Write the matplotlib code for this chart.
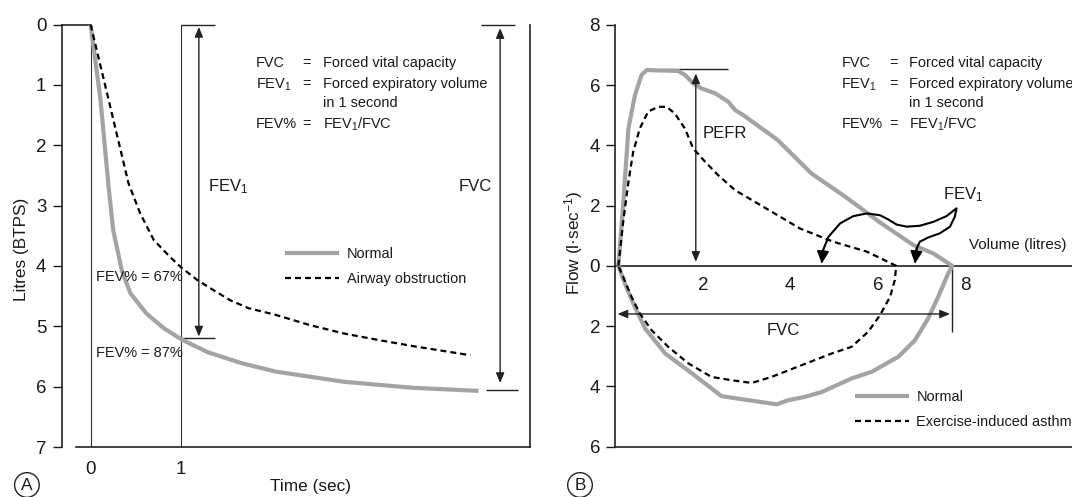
import matplotlib
matplotlib.use('Agg')
import matplotlib.pyplot as plt
from matplotlib import font_manager
from matplotlib.font_manager import FontProperties

# ---------------- data ----------------
# Panel A: volume-time spirogram
t_normal = [0.0, 0.11, 0.20, 0.25, 0.345, 0.44, 0.62, 0.81, 1.01, 1.30, 1.67, 2.05, 2.81, 3.58, 4.30]
vol_normal = [0.0, 1.25, 2.70, 3.40, 4.07, 4.45, 4.79, 5.03, 5.22, 5.43, 5.61, 5.75, 5.92, 6.02, 6.07]
t_obstr = [0.0, 0.20, 0.42, 0.55, 0.70, 0.88, 1.00, 1.18, 1.36, 1.55, 1.75, 2.05, 2.43, 2.81, 3.20, 3.58, 4.21]
vol_obstr = [0.0, 1.25, 2.63, 3.13, 3.57, 3.85, 4.02, 4.23, 4.40, 4.57, 4.70, 4.81, 4.98, 5.12, 5.23, 5.33, 5.48]
litre_ticks = [0, 1, 2, 3, 4, 5, 6, 7]
time_ticks = [0, 1]
fev1_normal_A = 5.2      # litres at 1 s (normal)
fvc_normal_A = 6.05      # litres (normal FVC)

# Panel B: flow-volume loops
normal_exp_v = [0.07, 0.18, 0.30, 0.45, 0.60, 0.72, 1.44, 1.59, 1.78, 1.97, 2.28, 2.58, 2.74, 2.93,
                3.71, 4.48, 5.26, 6.03, 6.81, 7.27, 7.70]
normal_exp_f = [0.0, 2.02, 4.56, 5.67, 6.34, 6.50, 6.47, 6.34, 6.06, 5.89, 5.73, 5.45, 5.17, 5.00,
                4.18, 3.07, 2.29, 1.46, 0.69, 0.41, 0.0]
normal_insp_v = [7.70, 7.61, 7.38, 7.15, 6.85, 6.47, 5.86, 5.40, 4.72, 4.34, 3.96, 3.69, 3.04, 2.43,
                 1.75, 1.14, 0.68, 0.41, 0.22, 0.07]
normal_insp_f = [0.0, -0.25, -1.03, -1.75, -2.47, -3.02, -3.52, -3.74, -4.19, -4.35, -4.46, -4.60,
                 -4.46, -4.33, -3.57, -2.91, -2.08, -1.25, -0.59, 0.0]
asthma_exp_v = [0.07, 0.18, 0.30, 0.41, 0.56, 0.75, 0.98, 1.17, 1.36, 1.59, 1.78, 2.05, 2.35, 2.74,
                3.71, 4.22, 4.98, 5.75, 6.42]
asthma_exp_f = [0.0, 1.46, 2.79, 3.79, 4.56, 5.12, 5.28, 5.28, 5.06, 4.56, 3.90, 3.46, 3.01, 2.51,
                1.68, 1.24, 0.80, 0.47, 0.0]
asthma_insp_v = [6.42, 6.39, 6.28, 6.05, 5.78, 5.40, 4.95, 4.26, 3.57, 3.12, 2.66, 2.20, 1.67, 1.21,
                 0.83, 0.56, 0.37, 0.18, 0.07]
asthma_insp_f = [0.0, -0.47, -1.03, -1.64, -2.19, -2.69, -2.91, -3.30, -3.69, -3.89, -3.80, -3.69,
                 -3.24, -2.69, -2.14, -1.58, -1.03, -0.37, 0.0]
flow_ticks = [8, 6, 4, 2, 0, -2, -4, -6]
flow_tick_labels = ['8', '6', '4', '2', '0', '2', '4', '6']
volume_ticks = [2, 4, 6, 8]
pefr_normal = 6.5
fvc_normal_B = 7.7
# FEV1 bracket (volume, flow) linking the two FEV1 volumes to the label
fev1_path_v = [4.72, 4.75, 4.87, 5.14, 5.44, 5.75, 6.05, 6.24, 6.43, 6.66, 6.96, 7.27, 7.57, 7.80,
               7.76, 7.65, 7.42, 7.15, 6.96, 6.89, 6.85]
fev1_path_f = [0.13, 0.52, 0.96, 1.41, 1.65, 1.74, 1.68, 1.54, 1.37, 1.30, 1.33, 1.46, 1.65, 1.91,
               1.63, 1.30, 1.08, 0.94, 0.80, 0.58, 0.13]

# ---------------- fonts ----------------
def have(fam):
    try:
        font_manager.findfont(FontProperties(family=fam), fallback_to_default=False)
        return True
    except Exception:
        return False

if have('Liberation Sans Narrow'):
    MAIN = 'Liberation Sans Narrow'
    k, k2 = 1.0, 1.0
else:
    MAIN = 'Liberation Sans'
    k, k2 = 0.87, 0.92
plt.rcParams['font.family'] = [MAIN, 'DejaVu Sans']
plt.rcParams['mathtext.fontset'] = 'custom'
plt.rcParams['mathtext.rm'] = MAIN
plt.rcParams['mathtext.it'] = MAIN
plt.rcParams['mathtext.bf'] = MAIN
plt.rcParams['mathtext.sf'] = MAIN

S_TICK = 13.5
S_LAB = 13.5 * k2
S_TXT = 12 * k
S_ANN = 13 * k2
TXT = '#1a1a1a'
GREY = '#a3a3a3'

W, H = 1072, 497
fig = plt.figure(figsize=(W / 100, H / 100), dpi=100)
fig.patch.set_facecolor('white')


def px_axes(x0, y_top, x1, y_bot):
    return [x0 / W, 1 - y_bot / H, (x1 - x0) / W, (y_bot - y_top) / H]


arrow_kw = dict(arrowstyle='<|-|>,head_length=0.6,head_width=0.25', color='#222222', lw=1.0,
                shrinkA=0, shrinkB=0, mutation_scale=10)

# ================= Panel A =================
axA = fig.add_axes(px_axes(62, 24.5, 530, 447))
axA.set_xlim(-0.317, 4.871)
axA.set_ylim(7, 0)
axA.patch.set_alpha(0)

lnA_norm, = axA.plot(t_normal, vol_normal, color=GREY, lw=3, solid_capstyle='butt',
                     solid_joinstyle='round', label='Normal', zorder=3)
lnA_obs, = axA.plot(t_obstr, vol_obstr, color='black', lw=1.6, dashes=(2.7, 1.8),
                    label='Airway obstruction', zorder=4)

for tt in time_ticks:
    axA.axvline(tt, color='#333333', lw=0.8, zorder=1)

for s in ['left', 'right', 'top', 'bottom']:
    axA.spines[s].set_linewidth(1.2)
    axA.spines[s].set_color('#222222')
axA.spines['top'].set_bounds(-0.317, 0)
axA.spines['bottom'].set_bounds(-0.165, 4.871)

axA.set_yticks(litre_ticks)
axA.set_yticklabels([str(v) for v in litre_ticks])
axA.set_xticks(time_ticks)
axA.set_xticklabels([str(v) for v in time_ticks])
axA.tick_params(axis='y', direction='out', length=6.2, width=1, pad=5, labelsize=S_TICK,
                colors=TXT)
axA.tick_params(axis='x', length=0, pad=10, labelsize=S_TICK, colors=TXT)

# FEV1 arrow and bars
axA.annotate('', xy=(1.2, 0.04), xytext=(1.2, fev1_normal_A - 0.03), arrowprops=arrow_kw)
axA.hlines([0, fev1_normal_A], 1.0, 1.38, color='#222222', lw=1.0, clip_on=False)
axA.text(1.3, 2.69, r'FEV$_1$', fontsize=S_ANN, color=TXT, ha='left', va='center')
# FVC arrow and bars
axA.annotate('', xy=(4.54, 0.06), xytext=(4.54, fvc_normal_A - 0.11), arrowprops=arrow_kw)
axA.hlines([0], 4.33, 4.71, color='#222222', lw=1.0, clip_on=False)
axA.hlines([fvc_normal_A], 4.38, 4.74, color='#222222', lw=1.0, clip_on=False)
axA.text(4.45, 2.69, 'FVC', fontsize=S_ANN, color=TXT, ha='right', va='center')

# definitions block
defs_y = [0.70, 1.06, 1.37, 1.72]
axA.text(1.83, defs_y[0], 'FVC', fontsize=S_TXT, color=TXT, va='baseline')
axA.text(2.39, defs_y[0], '=', fontsize=S_TXT, color=TXT, va='baseline', ha='center')
axA.text(2.58, defs_y[0], 'Forced vital capacity', fontsize=S_TXT, color=TXT, va='baseline')
axA.text(1.83, defs_y[1], r'FEV$_1$', fontsize=S_TXT, color=TXT, va='baseline')
axA.text(2.39, defs_y[1], '=', fontsize=S_TXT, color=TXT, va='baseline', ha='center')
axA.text(2.58, defs_y[1], 'Forced expiratory volume', fontsize=S_TXT, color=TXT, va='baseline')
axA.text(2.58, defs_y[2], 'in 1 second', fontsize=S_TXT, color=TXT, va='baseline')
axA.text(1.83, defs_y[3], 'FEV%', fontsize=S_TXT, color=TXT, va='baseline')
axA.text(2.39, defs_y[3], '=', fontsize=S_TXT, color=TXT, va='baseline', ha='center')
axA.text(2.58, defs_y[3], r'FEV$_1$/FVC', fontsize=S_TXT, color=TXT, va='baseline')

axA.text(0.06, 4.18, 'FEV% = 67%', fontsize=S_TXT, color=TXT, va='center', ha='left', zorder=5)
axA.text(0.06, 5.44, 'FEV% = 87%', fontsize=S_TXT, color=TXT, va='center', ha='left', zorder=5)

axA.legend(handles=[lnA_norm, lnA_obs], loc='center left', bbox_to_anchor=(2.16, 4.01),
           bbox_transform=axA.transData, frameon=False, borderpad=0, borderaxespad=0,
           handlelength=3.24 / k, handletextpad=0.45 / k, labelspacing=0.75, fontsize=S_TXT,
           labelcolor=TXT)

fig.text(21.7 / W, 1 - 249 / H, 'Litres (BTPS)', rotation=90, ha='center', va='center',
         fontsize=S_LAB, color=TXT)
fig.text(310 / W, 1 - 486.7 / H, 'Time (sec)', ha='center', va='center', fontsize=S_LAB,
         color=TXT)
fig.text(26.9 / W, 1 - 485 / H, 'A', ha='center', va='center', fontsize=S_LAB, color=TXT,
         bbox=dict(boxstyle='circle,pad=0.28', fc='none', ec='#222222', lw=1))

# ================= Panel B =================
axB = fig.add_axes(px_axes(615.3, 24.9, 1072, 446.5))
axB.set_xlim(0, (1072 - 615.3) / 43.75)
axB.set_ylim(-6, 8)
axB.patch.set_alpha(0)

lnB_norm, = axB.plot(normal_exp_v + normal_insp_v, normal_exp_f + normal_insp_f, color=GREY,
                     lw=3, solid_joinstyle='round', solid_capstyle='butt', label='Normal', zorder=3)
lnB_ast, = axB.plot(asthma_exp_v + asthma_insp_v, asthma_exp_f + asthma_insp_f, color='black',
                    lw=1.6, dashes=(2.7, 1.8), label='Exercise-induced asthma', zorder=4)

axB.axhline(0, color='#222222', lw=1.2, zorder=2)
for s in ['top', 'right']:
    axB.spines[s].set_visible(False)
for s in ['left', 'bottom']:
    axB.spines[s].set_linewidth(1.2)
    axB.spines[s].set_color('#222222')
axB.set_yticks(flow_ticks)
axB.set_yticklabels(flow_tick_labels)
axB.set_xticks([])
axB.tick_params(axis='y', direction='out', length=6.5, width=1, pad=4.5, labelsize=S_TICK,
                colors=TXT)
for v in volume_ticks:
    axB.text(v, -0.64, str(v), ha='center', va='center', fontsize=S_TICK, color=TXT)
axB.text(8.08, 0.69, 'Volume (litres)', ha='left', va='center', fontsize=S_TXT * 1.05, color=TXT)

# PEFR
axB.annotate('', xy=(1.84, pefr_normal - 0.11), xytext=(1.84, 0.13), arrowprops=arrow_kw)
axB.hlines([pefr_normal + 0.02], 1.07, 2.57, color='#222222', lw=1.0)
axB.text(2.0, 4.4, 'PEFR', ha='left', va='center', fontsize=S_ANN, color=TXT)

# FVC
axB.annotate('', xy=(0.05, -1.6), xytext=(fvc_normal_B - 0.05, -1.6), arrowprops=arrow_kw)
axB.vlines([fvc_normal_B], -2.19, 0, color='#222222', lw=1.0)
axB.text(3.84, -2.14, 'FVC', ha='center', va='center', fontsize=S_ANN, color=TXT)

# FEV1 bracket
axB.plot(fev1_path_v, fev1_path_f, color='black', lw=1.5, solid_capstyle='round', zorder=5)
head_kw = dict(arrowstyle='-|>,head_length=0.7,head_width=0.35', color='black', lw=1.5,
               shrinkA=0, shrinkB=0, mutation_scale=10)
axB.annotate('', xy=(fev1_path_v[0], fev1_path_f[0] - 0.05),
             xytext=(fev1_path_v[1], fev1_path_f[1]), arrowprops=head_kw, zorder=5)
axB.annotate('', xy=(fev1_path_v[-1], fev1_path_f[-1] - 0.05),
             xytext=(fev1_path_v[-2], fev1_path_f[-2]), arrowprops=head_kw, zorder=5)
axB.text(7.49, 2.35, r'FEV$_1$', ha='left', va='center', fontsize=S_ANN, color=TXT)

defsB_y = [6.61, 5.89, 5.26, 4.56]
axB.text(5.17, defsB_y[0], 'FVC', fontsize=S_TXT, color=TXT, va='baseline')
axB.text(6.35, defsB_y[0], '=', fontsize=S_TXT, color=TXT, va='baseline', ha='center')
axB.text(6.72, defsB_y[0], 'Forced vital capacity', fontsize=S_TXT, color=TXT, va='baseline')
axB.text(5.17, defsB_y[1], r'FEV$_1$', fontsize=S_TXT, color=TXT, va='baseline')
axB.text(6.35, defsB_y[1], '=', fontsize=S_TXT, color=TXT, va='baseline', ha='center')
axB.text(6.72, defsB_y[1], 'Forced expiratory volume', fontsize=S_TXT, color=TXT, va='baseline')
axB.text(6.72, defsB_y[2], 'in 1 second', fontsize=S_TXT, color=TXT, va='baseline')
axB.text(5.17, defsB_y[3], 'FEV%', fontsize=S_TXT, color=TXT, va='baseline')
axB.text(6.35, defsB_y[3], '=', fontsize=S_TXT, color=TXT, va='baseline', ha='center')
axB.text(6.72, defsB_y[3], r'FEV$_1$/FVC', fontsize=S_TXT, color=TXT, va='baseline')

axB.legend(handles=[lnB_norm, lnB_ast], loc='center left', bbox_to_anchor=(5.49, -4.76),
           bbox_transform=axB.transData, frameon=False, borderpad=0, borderaxespad=0,
           handlelength=3.24 / k, handletextpad=0.41 / k, labelspacing=0.75, fontsize=S_TXT,
           labelcolor=TXT)

fig.text(574 / W, 1 - 242.5 / H, r'Flow (l·sec$^{-1}$)', rotation=90, ha='center', va='center',
         fontsize=S_LAB, color=TXT)
fig.text(580 / W, 1 - 485 / H, 'B', ha='center', va='center', fontsize=S_LAB, color=TXT,
         bbox=dict(boxstyle='circle,pad=0.28', fc='none', ec='#222222', lw=1))

fig.savefig('out.png', dpi=100, facecolor='white')
